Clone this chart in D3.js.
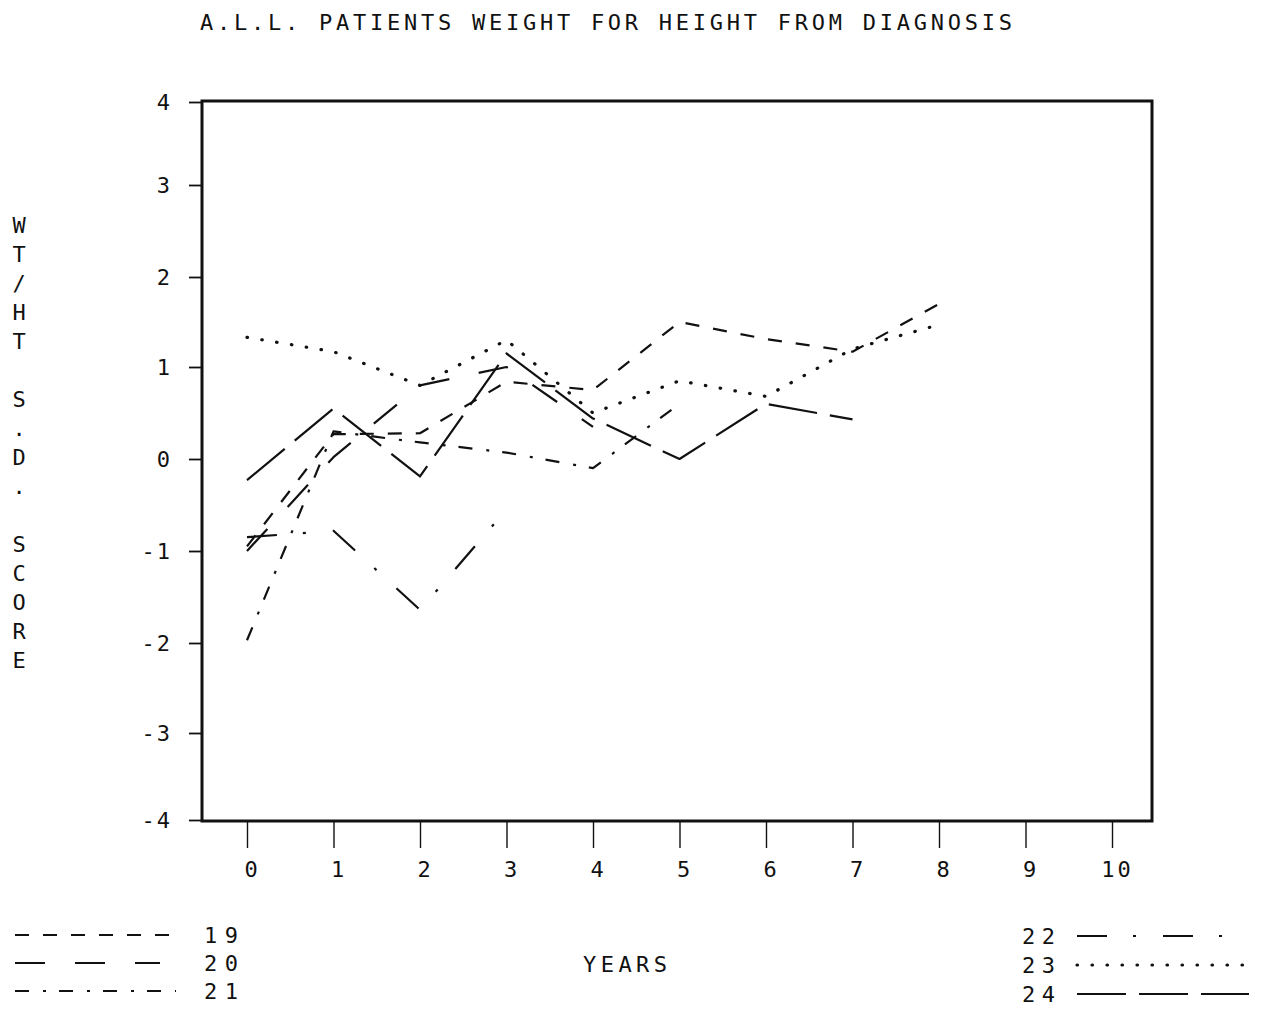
<!DOCTYPE html>
<html><head><meta charset="utf-8">
<script src="https://cdn.jsdelivr.net/npm/d3@7"></script>
<style>body{margin:0;background:#fff}</style>
</head><body>
<svg id="c" width="1261" height="1016"></svg>
<script>
// ---- data ----
const years = [0,1,2,3,4,5,6,7,8,9,10];
const yTicks = [-4,-3,-2,-1,0,1,2,3,4];
const seriesNames = ["19","20","21","22","23","24"];
const s19 = [-0.95, 0.27, 0.28, 0.84, 0.75, 1.5, 1.31, 1.17, 1.7];
const s20 = [-1.0, 0.02, 0.8, 1.0, 0.35];
const s21 = [-1.97, 0.3, 0.18, 0.07, -0.1, 0.6];
const s22 = [-0.85, -0.78, -1.64, -0.55];
const s23 = [1.33, 1.17, 0.8, 1.3, 0.5, 0.85, 0.68, 1.2, 1.47];
const s24 = [-0.23, 0.55, -0.19, 1.15, 0.44, 0.0, 0.6, 0.43];
const title = "A.L.L. PATIENTS WEIGHT FOR HEIGHT FROM DIAGNOSIS";
const yLabel = "WT/HT S.D. SCORE";
const xLabel = "YEARS";

// ---- drawing ----
const svg = d3.select("#c");
const FONT = "'DejaVu Sans Mono', 'Liberation Mono', monospace";
const FS = 22;
const ink = "#111";
const frame = {left: 202, right: 1152, top: 101, bottom: 821};

const x = d3.scaleLinear().domain([0, 10]).range([247, 1112]);
const y = d3.scaleLinear()
  .domain([-4,-3,-2,-1,0,1,2,3,4])
  .range([820,733,643,551,459,367,277,185,102]);

// series styling (kept apart from data)
const style = {
  "19": {dash: "14,14", cap: "butt", w: 2.2},
  "20": {dash: "30,30", cap: "butt", w: 2.2},
  "21": {dash: "14,14,3,13", cap: "butt", w: 2.2},
  "22": {dash: "30,26,3,27", cap: "butt", w: 2.2},
  "23": {dash: "0.5,14.5", cap: "round", w: 3.2},
  "24": {dash: "49,13", cap: "butt", w: 2.2}
};
const allSeries = [s19, s20, s21, s22, s23, s24];

// title
svg.append("text").attr("x", 200).attr("y", 30)
  .attr("font-family", FONT).attr("font-size", FS).attr("fill", ink)
  .attr("textLength", 812).attr("lengthAdjust", "spacing")
  .text(title);

// frame
svg.append("rect")
  .attr("x", frame.left).attr("y", frame.top)
  .attr("width", frame.right - frame.left).attr("height", frame.bottom - frame.top)
  .attr("fill", "none").attr("stroke", ink).attr("stroke-width", 3);

// y axis ticks + labels
const yAxis = d3.axisLeft(y).tickValues(yTicks).tickSize(13).tickPadding(17)
  .tickFormat(d => String(d));
const gy = svg.append("g").attr("transform", `translate(${frame.left},0)`).call(yAxis);
gy.select(".domain").remove();
gy.selectAll("line").attr("stroke", ink).attr("stroke-width", 1.8);
gy.selectAll("text").attr("font-family", FONT).attr("font-size", FS).attr("fill", ink)
  .attr("letter-spacing", 2);

// x axis ticks + labels
const xAxis = d3.axisBottom(x).tickValues(years).tickSize(27).tickPadding(13)
  .tickFormat(d => String(d));
const gx = svg.append("g").attr("transform", `translate(0,${frame.bottom})`).call(xAxis);
gx.select(".domain").remove();
gx.selectAll("line").attr("stroke", ink).attr("stroke-width", 1.4);
gx.selectAll("text").attr("font-family", FONT).attr("font-size", FS).attr("fill", ink)
  .attr("dx", 5).attr("letter-spacing", 3);

// y label (stacked characters)
svg.append("g").selectAll("text").data(yLabel.split(""))
  .join("text")
  .attr("x", 19).attr("y", (d, i) => 225 + 29 * i)
  .attr("text-anchor", "middle").attr("dominant-baseline", "central")
  .attr("font-family", FONT).attr("font-size", FS).attr("fill", ink)
  .text(d => d);

// lines
const line = d3.line().x((d, i) => x(years[i])).y(d => y(d));
seriesNames.forEach((name, k) => {
  const st = style[name];
  svg.append("path").datum(allSeries[k])
    .attr("d", line)
    .attr("fill", "none").attr("stroke", ink)
    .attr("stroke-width", st.w).attr("stroke-linecap", st.cap)
    .attr("stroke-linejoin", "round")
    .attr("stroke-dasharray", st.dash);
});

// x label
svg.append("text").attr("x", 583).attr("y", 972)
  .attr("font-family", FONT).attr("font-size", FS).attr("fill", ink)
  .attr("textLength", 84).attr("lengthAdjust", "spacing")
  .text(xLabel);

// legends
const legLeft = [
  {name: "19", y: 935, x1: 15, x2: 172},
  {name: "20", y: 963, x1: 15, x2: 160},
  {name: "21", y: 991, x1: 15, x2: 176}
];
const legRight = [
  {name: "22", y: 936, x1: 1077, x2: 1222},
  {name: "23", y: 965, x1: 1077, x2: 1245},
  {name: "24", y: 994, x1: 1077, x2: 1249}
];
legLeft.forEach(l => {
  const st = style[l.name];
  svg.append("line").attr("x1", l.x1).attr("x2", l.x2).attr("y1", l.y).attr("y2", l.y)
    .attr("stroke", ink).attr("stroke-width", st.w).attr("stroke-linecap", st.cap)
    .attr("stroke-dasharray", st.dash);
  svg.append("text").attr("x", 204).attr("y", l.y).attr("dominant-baseline", "central")
    .attr("font-family", FONT).attr("font-size", FS).attr("fill", ink)
    .attr("textLength", 34).attr("lengthAdjust", "spacing").text(l.name);
});
legRight.forEach(l => {
  const st = style[l.name];
  svg.append("line").attr("x1", l.x1).attr("x2", l.x2).attr("y1", l.y).attr("y2", l.y)
    .attr("stroke", ink).attr("stroke-width", st.w).attr("stroke-linecap", st.cap)
    .attr("stroke-dasharray", st.dash);
  svg.append("text").attr("x", 1022).attr("y", l.y).attr("dominant-baseline", "central")
    .attr("font-family", FONT).attr("font-size", FS).attr("fill", ink)
    .attr("textLength", 33).attr("lengthAdjust", "spacing").text(l.name);
});
</script>
</body></html>
